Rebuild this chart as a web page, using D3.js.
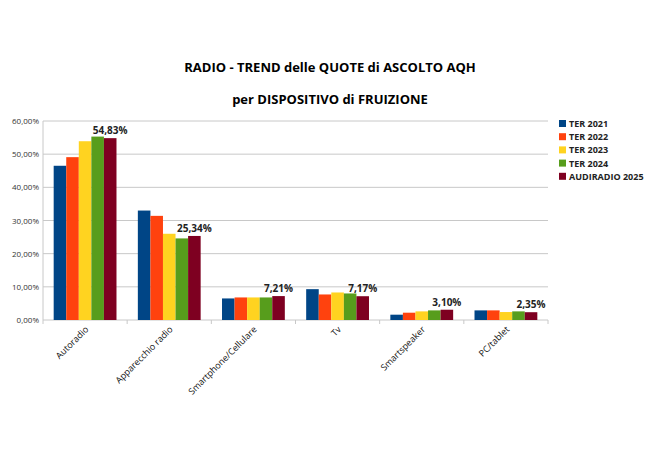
<!DOCTYPE html><html><head><meta charset="utf-8"><script src="https://cdn.jsdelivr.net/npm/d3@7"></script>
<style>body{margin:0;background:#fff}text{font-family:"Open Sans","Liberation Sans",sans-serif}</style></head><body><svg id="c" width="658" height="458"></svg><script>
const categories=["Autoradio","Apparecchio radio","Smartphone/Cellulare","Tv","Smartspeaker","PC/tablet"];
const seriesNames=["TER 2021","TER 2022","TER 2023","TER 2024","AUDIRADIO 2025"];
const colors=["#004586","#ff420e","#ffd320","#579d1c","#7e0021"];
const ter2021=[46.5,33.0,6.5,9.3,1.6,2.9];
const ter2022=[49.1,31.4,6.8,7.7,2.2,2.9];
const ter2023=[53.9,26.0,6.8,8.3,2.6,2.4];
const ter2024=[55.3,24.6,6.8,8.0,2.9,2.6];
const audiradio2025=[54.83,25.34,7.21,7.17,3.10,2.35];
const yTicks=[0,10,20,30,40,50,60];
const series=[ter2021,ter2022,ter2023,ter2024,audiradio2025];
const svg=d3.select("#c");
const fmt=v=>v.toFixed(2).replace(".",",")+"%";
const x=d3.scaleBand().domain(categories).range([43,548]);
const xi=d3.scaleBand().domain(seriesNames).range([0,x.bandwidth()]).paddingOuter(0.85);
const y=d3.scaleLinear().domain([0,60]).range([320,121]);
svg.append("g").selectAll("line").data(yTicks).join("line").attr("x1",43).attr("x2",548).attr("y1",d=>y(d)).attr("y2",d=>y(d)).attr("stroke","#c8c8c8");
svg.append("g").selectAll("text").data(yTicks).join("text").attr("x",39).attr("y",d=>y(d)+3).attr("text-anchor","end").attr("font-size",8).attr("fill","#333").text(d=>d.toFixed(2).replace(".",",")+"%");
svg.append("line").attr("x1",43).attr("x2",43).attr("y1",121).attr("y2",320).attr("stroke","#c8c8c8");
svg.append("g").selectAll("line").data(d3.range(7)).join("line").attr("x1",i=>43+i*x.step()).attr("x2",i=>43+i*x.step()).attr("y1",320).attr("y2",324).attr("stroke","#c8c8c8");
series.forEach((s,si)=>{
 svg.append("g").selectAll("rect").data(s).join("rect").attr("x",(d,i)=>x(categories[i])+xi(seriesNames[si])).attr("width",xi.bandwidth()).attr("y",d=>y(d)).attr("height",d=>320-y(d)).attr("fill",colors[si]);
});
svg.append("g").selectAll("text").data(audiradio2025).join("text").attr("x",(d,i)=>x(categories[i])+xi(seriesNames[4])+xi.bandwidth()/2).attr("y",d=>y(d)-4).attr("text-anchor","middle").attr("font-size",10).attr("font-weight","bold").attr("fill","#222").text(fmt);
svg.append("g").selectAll("text").data(categories).join("text").attr("transform",d=>`translate(${x(d)+x.bandwidth()/2+4},${330}) rotate(-45)`).attr("text-anchor","end").attr("font-size",9).attr("fill","#111").text(d=>d);
const lg=svg.append("g").selectAll("g").data(seriesNames).join("g").attr("transform",(d,i)=>`translate(559,${124+i*13.2})`);
lg.append("rect").attr("x",0).attr("y",-4).attr("width",7).attr("height",7).attr("fill",(d,i)=>colors[i]);
lg.append("text").attr("x",10).attr("y",3).attr("font-size",9).attr("font-weight","bold").attr("fill","#222").text(d=>d);
svg.append("text").attr("x",330).attr("y",72).attr("text-anchor","middle").attr("font-size",13).attr("font-weight","bold").text("RADIO - TREND delle QUOTE di ASCOLTO AQH");
svg.append("text").attr("x",330).attr("y",104).attr("text-anchor","middle").attr("font-size",13).attr("font-weight","bold").text("per DISPOSITIVO di FRUIZIONE");
</script></body></html>
